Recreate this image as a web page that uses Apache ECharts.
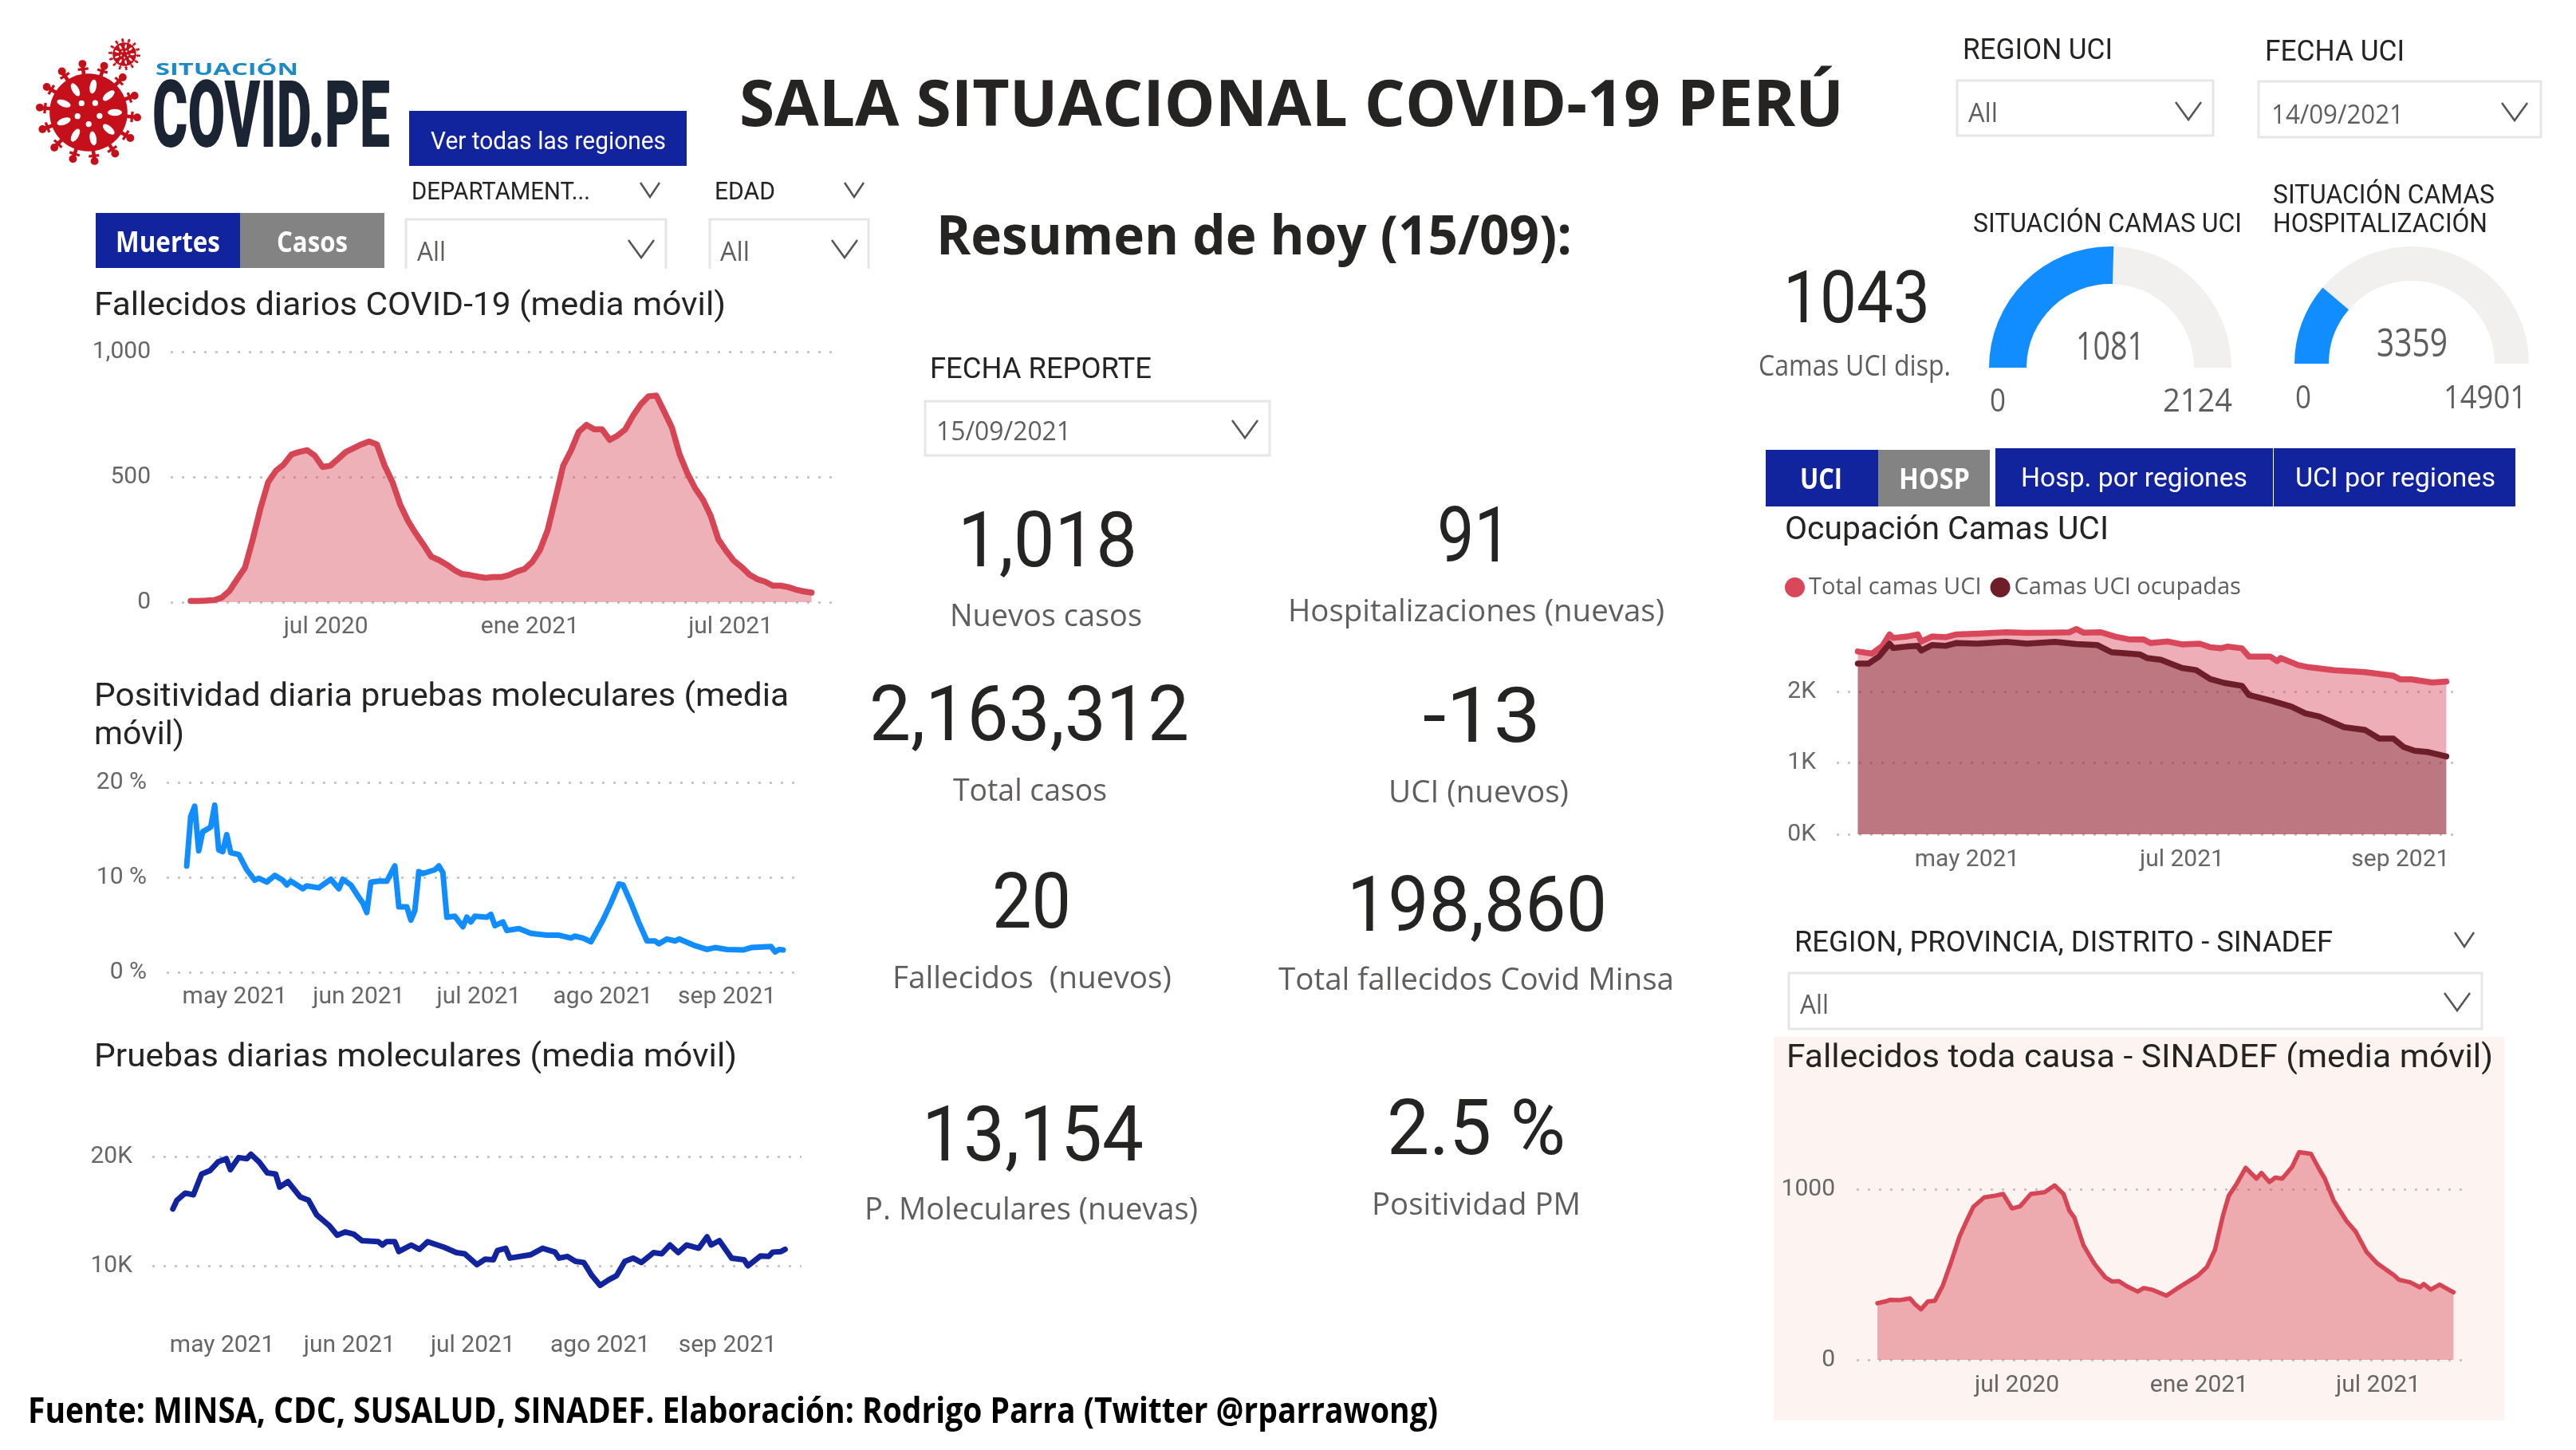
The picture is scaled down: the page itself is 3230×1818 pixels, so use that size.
<!DOCTYPE html>
<html><head><meta charset="utf-8">
<style>html,body{margin:0;padding:0;background:#fff}#c{width:3230px;height:1818px}</style>
<script src="https://cdn.jsdelivr.net/npm/echarts@6/dist/echarts.min.js"></script>
</head><body><div id="c"></div>
<script>
// ---------- DATA ----------
const deathsStart = '2020-03-01';
const deathsWeekly = [5,5,6,8,18,45,92,138,250,375,480,525,550,590,600,607,585,540,545,572,600,615,630,642,630,545,480,390,325,275,230,182,168,150,128,112,108,102,97,100,100,108,122,132,160,208,288,415,545,605,680,708,690,690,648,665,690,745,790,822,825,762,698,590,515,455,410,345,250,205,165,140,110,92,82,66,66,60,50,43,38];
const deathsTicks = ['2020-07-01','2021-01-01','2021-07-01'];
const deathsTickLabels = ['jul 2020','ene 2021','jul 2021'];

const positivityStart = '2021-04-19';
const positivityDays = [0,1,2,3,4,6,7,8,9,10,11,13,15,17,18,20,22,24,25,26,29,30,33,36,38,39,41,43,44,45,46,48,50,52,53,55,56,57,58,59,62,63,64,65,67,69,70,71,72,75,76,77,79,80,83,86,90,93,96,97,99,101,104,106,108,109,111,113,115,117,118,120,122,123,127,130,132,135,139,141,146,147,148,149];
const positivityPct = [11.2,16.4,17.5,12.8,14.8,15.3,17.6,12.9,12.7,14.5,12.6,12.4,10.8,9.7,9.9,9.5,10.2,9.7,9.2,9.6,8.8,9.1,8.9,9.8,8.8,9.8,9.2,7.9,7.3,6.3,9.5,9.6,9.6,11.2,6.9,6.9,5.5,6.5,10.6,10.4,10.8,11.2,10.5,5.8,5.9,4.8,5.8,5.3,5.9,5.8,6.1,4.9,5.3,4.4,4.6,4.1,3.9,3.9,3.6,3.8,3.6,3.2,5.5,7.3,9.3,9.2,7.3,5.2,3.3,3.3,3.0,3.5,3.3,3.5,2.8,2.4,2.6,2.4,2.35,2.6,2.7,2.15,2.4,2.35];

const testsStart = '2021-04-19';
const testsDays = [0,1,3,5,7,9,11,13,14,16,18,19,21,23,25,26,28,31,33,35,38,40,42,44,46,50,51,52,54,55,58,60,62,66,69,71,74,76,78,79,81,82,87,90,93,94,96,98,100,102,104,106,108,110,112,114,117,119,121,123,125,128,130,131,133,136,139,140,143,145,146,148,149];
const testsValues = [15200,16000,16650,16500,18400,18700,19500,19800,18800,19900,19800,20200,19500,18500,18400,17200,17700,16300,16000,14650,13700,12800,13100,12900,12300,12200,11900,12200,12200,11300,11900,11500,12200,11700,11200,11100,10100,10600,10550,11400,11600,10700,11000,11600,11250,10700,10850,10400,10300,9100,8200,8700,9100,10400,10700,10300,11200,11100,11900,11200,11900,11600,12650,11900,12300,10700,10550,10000,10900,10850,11250,11300,11500];
const monthTicks = ['2021-05-01','2021-06-01','2021-07-01','2021-08-01','2021-09-01'];
const monthTickLabels = ['may 2021','jun 2021','jul 2021','ago 2021','sep 2021'];

const uciStart = '2021-03-31';
const uciTotalDays = [0,4,7,9,10,14,17,18,21,25,28,34,42,48,55,60,62,64,69,73,77,81,83,88,92,97,100,103,105,109,111,117,119,120,125,128,135,144,152,154,157,163,167];
const uciTotal = [2560,2530,2640,2800,2750,2770,2800,2700,2770,2760,2800,2810,2830,2820,2825,2830,2875,2825,2830,2770,2730,2730,2680,2700,2660,2670,2620,2605,2630,2605,2490,2490,2425,2470,2370,2340,2300,2270,2220,2170,2170,2125,2140];
const uciOccupiedDays = [0,3,6,9,10,14,17,18,21,25,28,34,42,48,56,62,68,72,80,82,86,92,96,100,104,109,111,117,123,127,131,138,144,148,152,155,158,162,167];
const uciOccupied = [2390,2390,2490,2670,2610,2630,2640,2575,2650,2640,2680,2670,2695,2670,2695,2665,2650,2550,2520,2470,2445,2330,2300,2175,2120,2080,1950,1875,1790,1695,1650,1500,1460,1340,1340,1220,1170,1150,1090];
const uciTicks = ['2021-05-01','2021-07-01','2021-09-01'];
const uciTickLabels = ['may 2021','jul 2021','sep 2021'];
const uciNames = ['Total camas UCI','Camas UCI ocupadas'];

const sinadefStart = '2020-02-11';
const sinadefDays = [0,8,13,22,33,38,44,51,58,66,74,83,90,97,108,119,127,136,144,155,169,179,188,194,199,208,219,230,237,244,252,263,269,277,292,302,313,324,333,341,349,355,363,372,383,388,396,402,409,419,426,438,447,452,461,474,483,494,505,522,527,538,548,552,559,568,577,582];
const sinadefValues = [332,342,352,350,360,326,296,342,346,435,565,724,813,897,952,962,972,887,899,972,982,1022,972,873,833,674,565,485,459,461,431,400,421,412,376,415,455,495,545,644,843,962,1032,1125,1062,1095,1042,1068,1062,1131,1217,1207,1111,1062,932,813,753,634,565,495,469,455,425,445,412,441,412,396];

const gaugeUciValue = 1081, gaugeUciMax = 2124;
const gaugeHospValue = 3359, gaugeHospMax = 14901;

// ---------- HELPERS ----------
const D = s => { const [y,m,d] = s.split('-').map(Number); return Date.UTC(y,m-1,d); };
const DAY = 864e5;
const pts = (start, days, vals) => days.map((d,i)=>[D(start)+d*DAY, vals[i]]);

const DIN = 'Roboto', UI = '"Open Sans"', HEAD = '"Open Sans"';
const INK = '#252423', GREY = '#605E5C', NAVY = '#12239E', BTN = '#838383', RED = '#D64554', DARK = '#6E1E28', BLUE = '#118DFF';

const mctx = document.createElement('canvas').getContext('2d');
// text helper: fitted horizontally to the width measured on the reference
function T(text, left, right, cy, size, o={}) {
  const family = o.family || DIN, weight = o.weight || 400;
  const font = `${weight} ${size}px ${family}`;
  mctx.font = font;
  const w = mctx.measureText(text).width;
  return {type:'text', x:left, y:cy + size*0.07 + 1.5, scaleX:(right-left)/w, z:10, silent:true,
    style:{text, x:0, y:0, font, fill:o.color||INK, textAlign:'left', textVerticalAlign:'middle'}};
}
const R = (x0,x1,y0,y1,fill,z=1)=>({type:'rect',shape:{x:x0,y:y0,width:x1-x0,height:y1-y0},style:{fill},z,silent:true});
function chev(cx,cy,hw,hh,color='#555',lw=2.5){
  return {type:'polyline',shape:{points:[[cx-hw,cy-hh],[cx,cy+hh],[cx+hw,cy-hh]]},style:{stroke:color,lineWidth:lw,fill:null},z:10,silent:true};
}
function box(x0,x1,y0,y1,open){
  const s={stroke:'#E6E6E6',lineWidth:3,fill:null};
  if(open) return {type:'polyline',shape:{points:[[x0,y1],[x0,y0],[x1,y0],[x1,y1]]},style:s,z:5,silent:true};
  return {type:'rect',shape:{x:x0,y:y0,width:x1-x0,height:y1-y0},style:s,z:5,silent:true};
}
function virus(cx,cy,r,color){
  const out=[];
  const n=14;
  for(let i=0;i<n;i++){
    const a=i/n*Math.PI*2+0.1, c=Math.cos(a), s=Math.sin(a);
    out.push({type:'line',shape:{x1:cx+c*r*.6,y1:cy+s*r*.6,x2:cx+c*r*.92,y2:cy+s*r*.92},style:{stroke:color,lineWidth:r*.07},z:6,silent:true});
    out.push({type:'circle',shape:{cx:cx+c*r*.93,cy:cy+s*r*.93,r:r*.075},style:{fill:color},z:6,silent:true});
    const tx=-s*r*.1, ty=c*r*.1;
    out.push({type:'line',shape:{x1:cx+c*r*.83-tx,y1:cy+s*r*.83-ty,x2:cx+c*r*.83+tx,y2:cy+s*r*.83+ty},style:{stroke:color,lineWidth:r*.05},z:6,silent:true});
  }
  out.push({type:'circle',shape:{cx,cy,r:r*.74},style:{fill:color},z:6,silent:true});
  for(let i=0;i<9;i++){
    const a=i/9*Math.PI*2;
    out.push({type:'circle',x:cx+Math.cos(a)*r*.5,y:cy+Math.sin(a)*r*.5,rotation:-a,scaleX:1.6,scaleY:.75,shape:{cx:0,cy:0,r:r*.085},style:{fill:'#fff'},z:7,silent:true});
  }
  for(let i=0;i<5;i++){
    const a=i/5*Math.PI*2+.3;
    out.push({type:'circle',shape:{cx:cx+Math.cos(a)*r*.22,cy:cy+Math.sin(a)*r*.22,r:r*.055},style:{fill:'#fff'},z:7,silent:true});
  }
  return out;
}

const LABEL = {color:'#666', fontFamily:DIN, fontSize:30};
const gridLine = {show:true, lineStyle:{type:[3,11], color:'#BDBDBD', width:2.5}};

function xAx(idx, min, max, ticks, labels, margin){
  const vals = ticks.map(D);
  return {type:'value', gridIndex:idx, min:D(min), max:D(max), scale:true,
    axisLine:{show:false}, axisTick:{show:false}, splitLine:{show:false},
    axisLabel:{...LABEL, margin, hideOverlap:false, customValues:vals,
      formatter:v=>{const i=vals.indexOf(+v); return i<0?'':labels[i];}}};
}
function yAx(idx, min, max, interval, fmt, margin){
  return {type:'value', gridIndex:idx, min, max, interval,
    axisLine:{show:false}, axisTick:{show:false}, splitLine:gridLine,
    axisLabel:{...LABEL, margin, padding:[4,0,0,0], formatter:fmt}};
}
function ln(idx, name, data, color, width, areaFill, z=2){
  const s = {type:'line', name, xAxisIndex:idx, yAxisIndex:idx, data, showSymbol:false, symbol:'none', clip:false, z,
    silent:true, lineStyle:{color, width, cap:'round', join:'round'}, itemStyle:{color}};
  if(areaFill) s.areaStyle = {color:areaFill, opacity:1};
  return s;
}
function gauge(cx,cy,r,w,val,max){
  return {type:'gauge', center:[cx,cy], radius:r, startAngle:180, endAngle:0, min:0, max, silent:true,
    pointer:{show:false}, axisTick:{show:false}, splitLine:{show:false}, axisLabel:{show:false}, title:{show:false},
    axisLine:{roundCap:false, lineStyle:{width:w, color:[[val/max,BLUE],[1,'#F1F0EF']]}},
    detail:{show:false},
    data:[{value:val}]};
}

// ---------- GRAPHIC LAYER ----------
const G = [];
G.push(R(2224,3140,1300,1781,'#FDF4F1',0));
G.push(...virus(111,141,66,'#C5101B'), ...virus(156,68,20,'#C5101B'));
G.push(T('SITUACIÓN',195,374,85,22,{family:UI,weight:700,color:'#1C8AC6'}));
G.push(T('COVID.PE',191,489,145,116,{family:DIN,weight:900,color:'#1B2433'}));
G.push(T('SALA SITUACIONAL COVID-19 PERÚ',927,2312,128,80,{family:HEAD,weight:700}));

G.push(R(513,861,139,208,NAVY,5), T('Ver todas las regiones',540,835,175,32,{family:DIN,color:'#fff'}));
G.push(T('DEPARTAMENT...',516,740,238,32), chev(815,238,12,9));
G.push(T('EDAD',896,972,238,32), chev(1071,238,12,9));
G.push(box(509,835,275,337,true), T('All',523,559,314,32,{family:UI,color:GREY}), chev(804,312,16,11));
G.push(box(890,1089,275,337,true), T('All',903,940,314,32,{family:UI,color:GREY}), chev(1059,312,16,11));
G.push(R(120,301,267,336,NAVY,5), R(301,482,267,336,BTN,5));
G.push(T('Muertes',145,276,302,36,{family:HEAD,weight:700,color:'#fff'}), T('Casos',347,436,302,36,{family:HEAD,weight:700,color:'#fff'}));

G.push(T('Fallecidos diarios COVID-19 (media móvil)',118,910,381,40));
G.push(T('Positividad diaria pruebas moleculares (media',118,989,871,40));
G.push(T('móvil)',118,231,919,40));
G.push(T('Pruebas diarias moleculares (media móvil)',118,924,1323,40));
G.push(T('Fuente: MINSA, CDC, SUSALUD, SINADEF. Elaboración: Rodrigo Parra (Twitter @rparrawong)',35,1803,1767,44,{family:HEAD,weight:700,color:'#000'}));

G.push(T('Resumen de hoy (15/09):',1174,1971,293,68,{family:HEAD,weight:700}));
G.push(T('FECHA REPORTE',1166,1444,461,36));
G.push(box(1160,1592,503,571), T('15/09/2021',1174,1343,539,32,{family:UI,color:GREY}), chev(1561,538,16,11));

const KV = (s,l,r,y)=>T(s,l,r,y,96,{color:INK});
const KL = (s,l,r,y)=>T(s,l,r,y,38,{family:UI,color:GREY});
G.push(KV('1,018',1201,1426,678), KL('Nuevos casos',1191,1432,770));
G.push(KV('91',1802,1895,672), KL('Hospitalizaciones (nuevas)',1615,2087,764));
G.push(KV('2,163,312',1090,1491,896), KL('Total casos',1195,1388,989));
G.push(KV('-13',1784,1932,898), KL('UCI (nuevos)',1741,1967,991));
G.push(KV('20',1244,1343,1131), KL('Fallecidos  (nuevos)',1119,1469,1224));
G.push(KV('198,860',1689,2015,1135), KL('Total fallecidos Covid Minsa',1603,2099,1226));
G.push(KV('13,154',1156,1434,1423), KL('P. Moleculares (nuevas)',1084,1502,1514));
G.push(KV('2.5 %',1739,1963,1415), KL('Positividad PM',1720,1982,1508));

G.push(T('REGION UCI',2461,2649,61,36), T('FECHA UCI',2840,3015,63,36));
G.push(box(2454,2775,101,170), T('All',2468,2505,140,32,{family:UI,color:GREY}), chev(2744,139,16,11));
G.push(box(2832,3186,102,172), T('14/09/2021',2848,3014,142,32,{family:UI,color:GREY}), chev(3153,140,16,11));
G.push(T('SITUACIÓN CAMAS UCI',2474,2811,279,34));
G.push(T('SITUACIÓN CAMAS',2850,3128,243,34), T('HOSPITALIZACIÓN',2850,3119,279,34));
G.push(T('1043',2236,2420,374,90), T('Camas UCI disp.',2205,2446,457,36,{family:UI,color:GREY}));
G.push(T(String(gaugeUciValue),2603,2689,432,50,{family:UI,color:GREY}), T(String(gaugeHospValue),2980,3069,428,50,{family:UI,color:GREY}));
G.push(T('0',2495,2515,500,40,{family:UI,color:GREY}), T(String(gaugeUciMax),2712,2799,500,40,{family:UI,color:GREY}));
G.push(T('0',2878,2898,496,40,{family:UI,color:GREY}), T(String(gaugeHospMax),3064,3168,496,40,{family:UI,color:GREY}));

G.push(R(2214,2355,564,635,NAVY,5), R(2355,2495,564,635,BTN,5), R(2502,2850,562,635,NAVY,5), R(2851,3154,562,635,NAVY,5));
G.push(T('UCI',2257,2310,599,36,{family:HEAD,weight:700,color:'#fff'}), T('HOSP',2381,2470,599,36,{family:HEAD,weight:700,color:'#fff'}));
G.push(T('Hosp. por regiones',2534,2818,598,34,{family:DIN,color:'#fff'}), T('UCI por regiones',2878,3129,598,34,{family:DIN,color:'#fff'}));
G.push(T('Ocupación Camas UCI',2238,2644,662,40));

G.push(T('REGION, PROVINCIA, DISTRITO - SINADEF',2250,2925,1180,36), chev(3090,1178,12,9));
G.push(box(2243,3112,1220,1290), T('All',2257,2293,1258,32,{family:UI,color:GREY}), chev(3081,1256,16,11));
G.push(T('Fallecidos toda causa - SINADEF (media móvil)',2240,3126,1324,40));

// ---------- CHART ----------
const chart = echarts.init(document.getElementById('c'), null, {width:3230, height:1818, renderer:'canvas'});
const grid = (l,r,t,b)=>({left:l, top:t, width:r-l, height:b-t, containLabel:false, show:false});
const K = v=>(v/1000)+'K';
chart.setOption({
  animation:false, backgroundColor:'#fff',
  grid:[grid(214,1044,441,755), grid(209,1007,981,1219), grid(191,1005,1450,1587), grid(2303,3085,867,1046), grid(2328,3095,1491,1705)],
  xAxis:[
    xAx(0,'2020-02-12','2021-10-01',deathsTicks,deathsTickLabels,16),
    xAx(1,'2021-04-14','2021-09-20',monthTicks,monthTickLabels,16),
    xAx(2,'2021-04-14','2021-09-19',monthTicks,monthTickLabels,85),
    xAx(3,'2021-03-25','2021-09-18',uciTicks,uciTickLabels,17),
    xAx(4,'2020-01-21','2021-09-30',deathsTicks,deathsTickLabels,17)
  ],
  yAxis:[
    yAx(0,0,1000,500,v=>v.toLocaleString('en-US'),25),
    yAx(1,0,20,10,v=>v+' %',25),
    yAx(2,10000,20000,10000,K,25),
    yAx(3,0,2000,1000,K,26),
    yAx(4,0,1000,1000,v=>String(v),27)
  ],
  legend:{show:true, data:uciNames, left:2233, top:717, icon:'circle', itemWidth:25, itemHeight:25, itemGap:11, selectedMode:false,
    textStyle:{color:GREY, fontFamily:UI, fontSize:29}},
  series:[
    ln(0,'Fallecidos COVID-19',pts(deathsStart,deathsWeekly.map((_,i)=>i*7),deathsWeekly),RED,7.5,'rgba(214,69,84,0.42)'),
    ln(1,'Positividad',pts(positivityStart,positivityDays,positivityPct),BLUE,7),
    ln(2,'Pruebas',pts(testsStart,testsDays,testsValues),NAVY,7),
    ln(3,uciNames[0],pts(uciStart,uciTotalDays,uciTotal),'#D9475A',7.5,'rgba(217,71,90,0.44)',2),
    ln(3,uciNames[1],pts(uciStart,uciOccupiedDays,uciOccupied),DARK,7.5,'rgba(110,30,40,0.38)',3),
    ln(4,'Fallecidos SINADEF',pts(sinadefStart,sinadefDays,sinadefValues),RED,5.5,'rgba(214,69,84,0.42)'),
    gauge(2646,461,152,47,gaugeUciValue,gaugeUciMax),
    gauge(3024,456,147,43,gaugeHospValue,gaugeHospMax)
  ],
  graphic:{elements:G}
});
</script></body></html>
